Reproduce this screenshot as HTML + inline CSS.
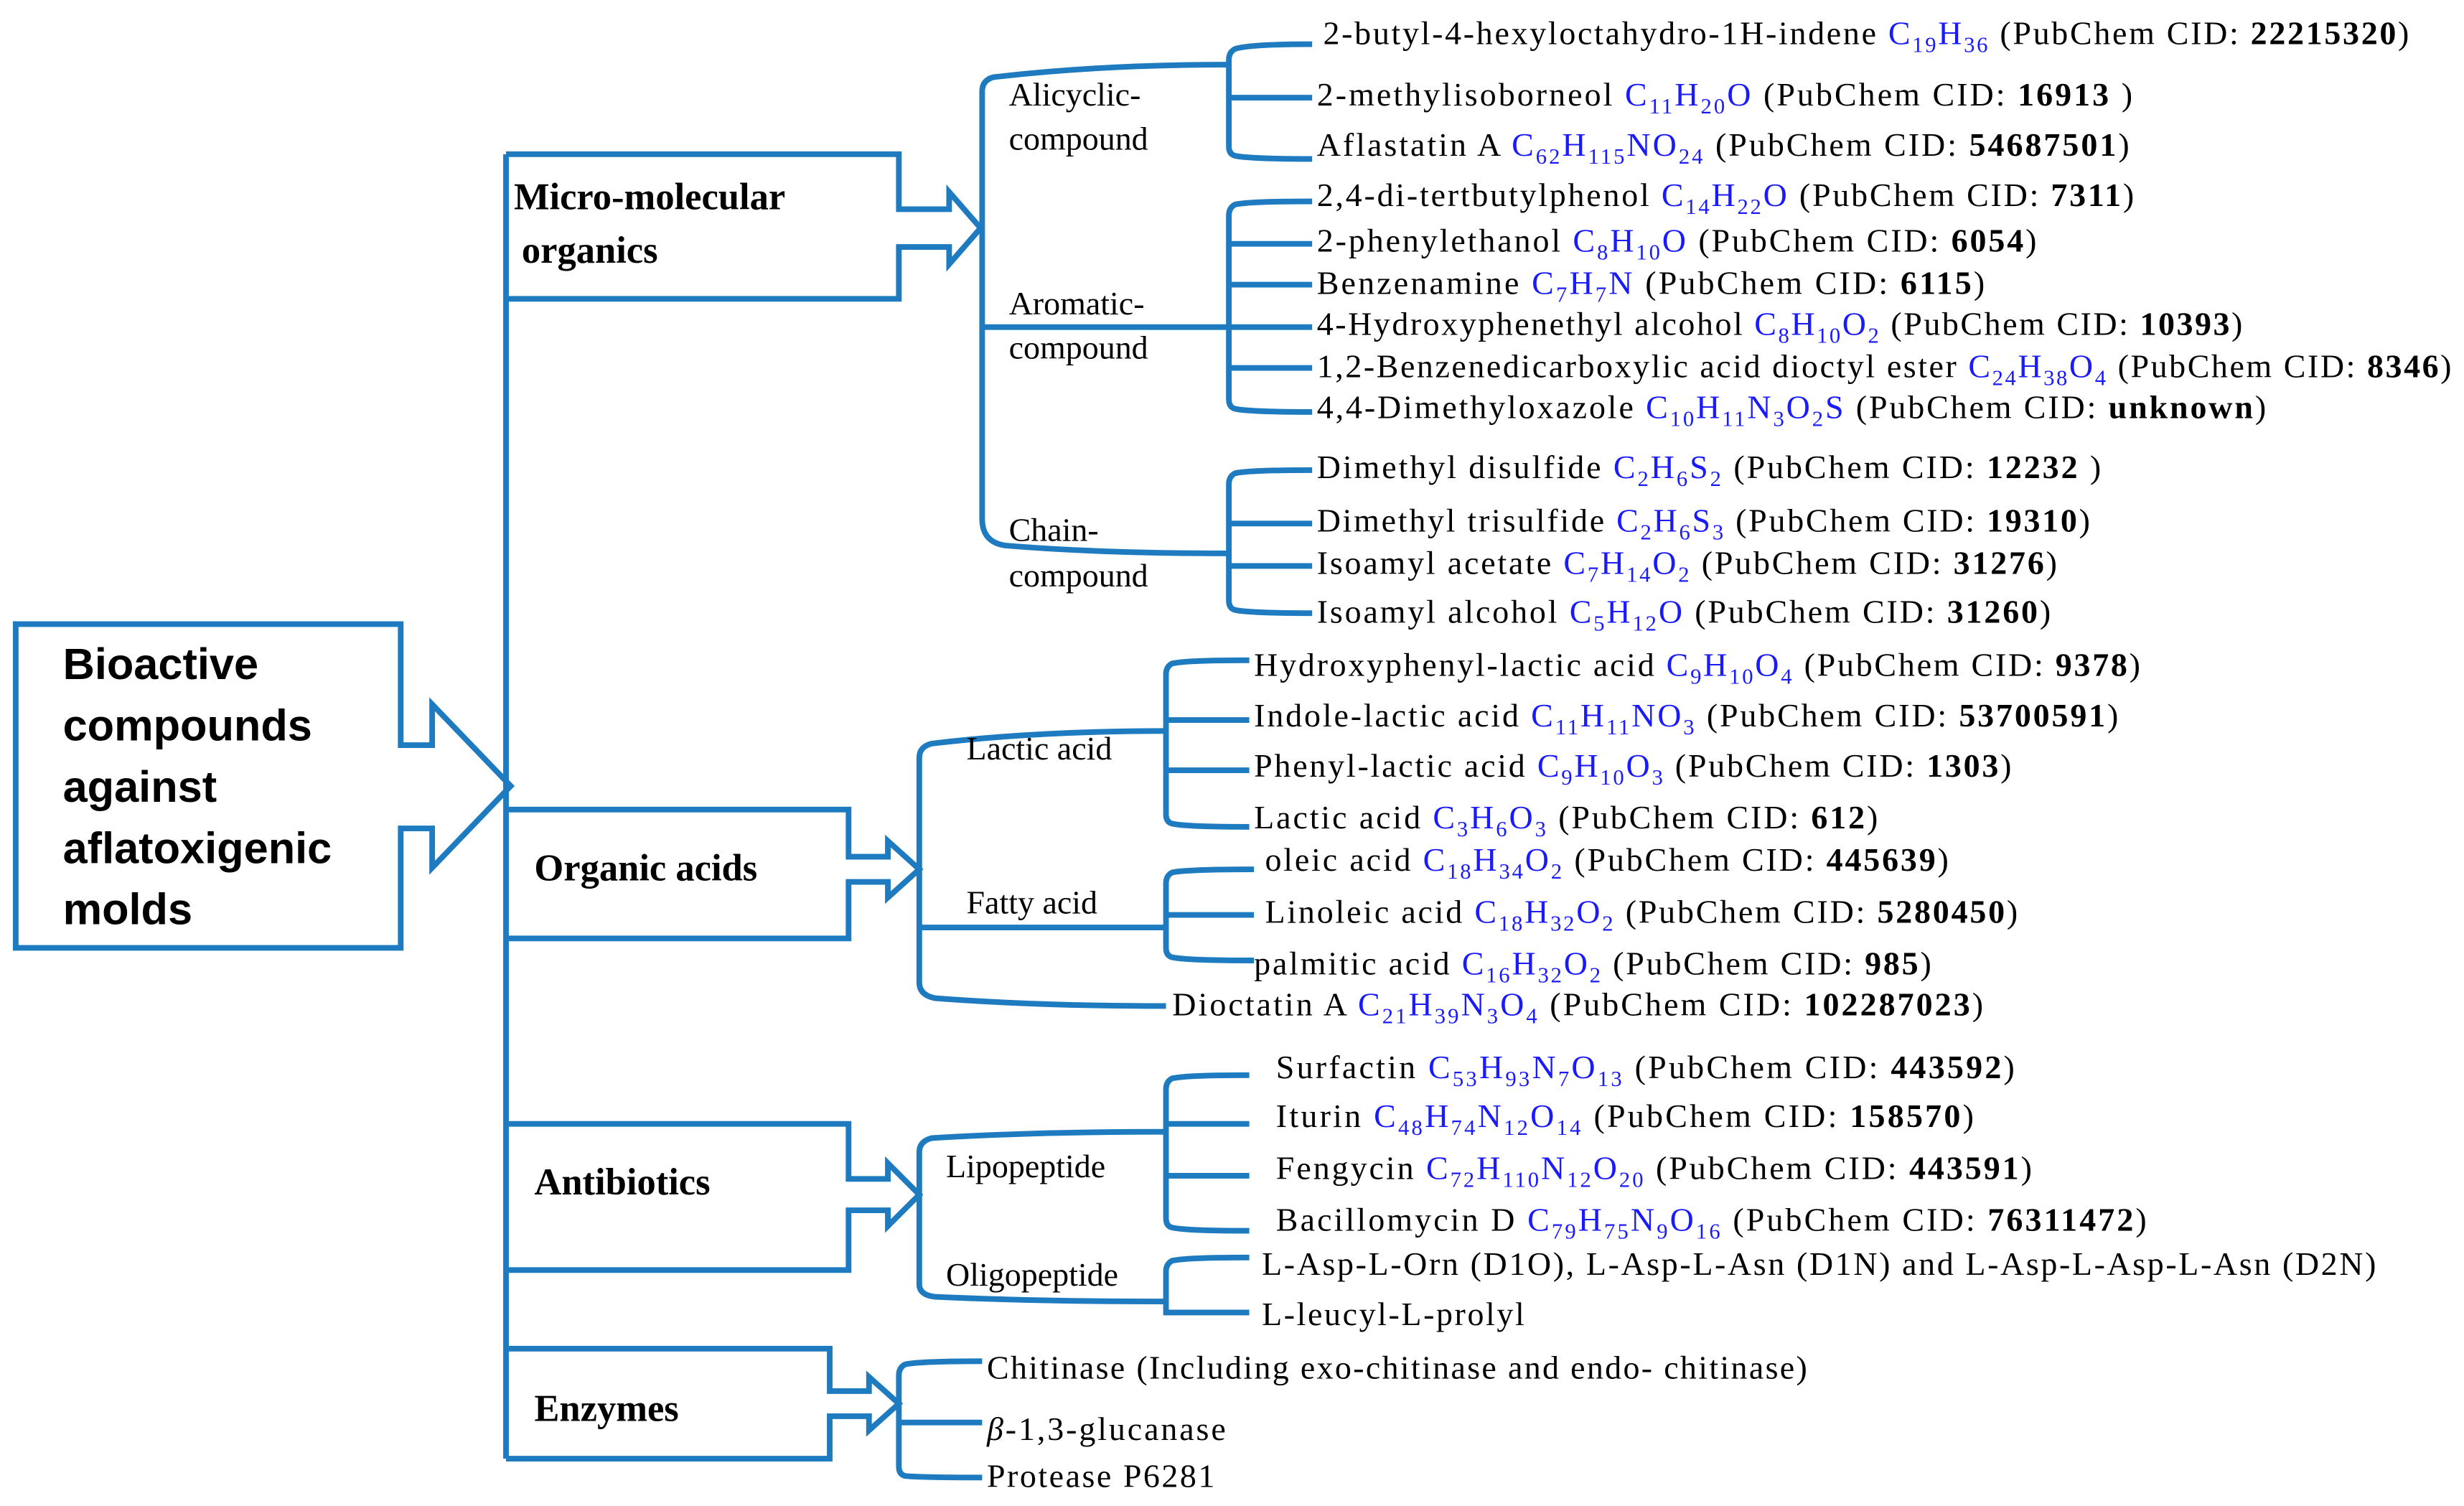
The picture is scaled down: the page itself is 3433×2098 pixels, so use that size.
<!DOCTYPE html>
<html><head><meta charset="utf-8"><style>
html,body{margin:0;padding:0;background:#fff;}
svg{display:block}
text{font-family:"Liberation Serif",serif;font-size:21px;fill:#000}
.f{fill:#1a1aff}
.s{font-size:14px;baseline-shift:-5px}
.b{font-weight:bold}
.h{font-weight:bold;font-size:24px}
.big{font-family:"Liberation Sans",sans-serif;font-weight:bold;font-size:28px}
path,line{stroke:#1f7bc0;stroke-width:3.6;fill:none;stroke-linejoin:miter}
</style></head><body>
<svg width="3433" height="2098" viewBox="0 0 1568 958" xmlns="http://www.w3.org/2000/svg">
<!-- big box -->
<path d="M10,397 H255 V474 H275 V448 L325,500 L275,552 V527 H255 V603 H10 Z"/>
<!-- trunk -->
<line x1="322" y1="98" x2="322" y2="928"/>
<!-- micro box -->
<path d="M322,98 H572 V133 H604 V122 L624,145 L604,168 V157 H572 V190 H322"/>
<path d="M322,515 H540 V545 H565 V535 L585,553 L565,571 V561 H540 V597 H322"/>
<path d="M322,715 H540 V750 H565 V740 L585,760 L565,780 V770 H540 V808 H322"/>
<path d="M322,858 H528 V885 H553 V876 L572,893 L553,910 V901 H528 V928 H322"/>
<!-- micro brackets -->
<path d="M782,41 Q700,41 632,49 Q625,51 625,58 V330 Q625,345 640,347 Q700,352 782,352"/>
<line x1="625" y1="208" x2="782" y2="208"/>
<path d="M835,28 Q795,28 786,31 Q782,33 782,38 V93 Q782,98 786,99 Q795,101 835,101 M782,62 H835"/>
<path d="M835,128 Q795,128 786,130 Q782,132 782,137 V254 Q782,259 786,260 Q795,262 835,262 M782,155 H835 M782,181 H835 M782,208 H835 M782,234 H835"/>
<path d="M835,299 Q795,299 786,301 Q782,303 782,308 V382 Q782,387 786,388 Q795,390 835,390 M782,333 H835 M782,360 H835"/>
<!-- organic acids -->
<path d="M742,465 Q660,465 593,473 Q585,475 585,482 V625 Q585,633 595,635 Q660,640 742,640"/>
<line x1="585" y1="590" x2="742" y2="590"/>
<path d="M795,420 Q755,420 746,422 Q742,424 742,429 V518 Q742,523 746,524 Q755,526 795,526 M742,458 H795 M742,490 H795"/>
<path d="M798,553 Q755,553 746,555 Q742,557 742,562 V603 Q742,608 746,609 Q755,611 798,611 M742,582 H798"/>
<!-- antibiotics -->
<path d="M742,720 Q660,720 593,724 Q585,726 585,733 V817 Q585,824 595,825 Q660,828 742,828"/>
<path d="M795,684 Q755,684 746,686 Q742,688 742,693 V775 Q742,780 746,781 Q755,783 795,783 M742,715 H795 M742,748 H795"/>
<path d="M795,800 Q755,800 746,802 Q742,804 742,809 V835 H795"/>
<!-- enzymes -->
<path d="M625,866 Q585,866 576,868 Q572,870 572,875 V933 Q572,938 576,939 Q585,940 625,940 M572,905 H625"/>

<!-- labels -->
<text x="642" y="67">Alicyclic-</text><text x="642" y="95">compound</text>
<text x="642" y="200">Aromatic-</text><text x="642" y="228">compound</text>
<text x="642" y="344">Chain-</text><text x="642" y="373">compound</text>
<text x="615" y="483">Lactic acid</text>
<text x="615" y="581">Fatty acid</text>
<text x="602" y="749">Lipopeptide</text>
<text x="602" y="818">Oligopeptide</text>
<text class="h" x="327" y="133">Micro-molecular</text>
<text class="h" x="332" y="167">organics</text>
<text class="h" x="340" y="560">Organic acids</text>
<text class="h" x="340" y="760">Antibiotics</text>
<text class="h" x="340" y="904">Enzymes</text>
<text class="big" x="40" y="432">Bioactive</text>
<text class="big" x="40" y="471">compounds</text>
<text class="big" x="40" y="510">against</text>
<text class="big" x="40" y="549">aflatoxigenic</text>
<text class="big" x="40" y="588">molds</text>

<!-- items -->
<text x="842" y="28" textLength="691" lengthAdjust="spacing">2-butyl-4-hexyloctahydro-1H-indene <tspan class="f">C<tspan class="s">19</tspan>H<tspan class="s">36</tspan></tspan> (PubChem CID: <tspan class="b">22215320</tspan>)</text>
<text x="838" y="67" textLength="519" lengthAdjust="spacing">2-methylisoborneol <tspan class="f">C<tspan class="s">11</tspan>H<tspan class="s">20</tspan>O</tspan> (PubChem CID: <tspan class="b">16913</tspan> )</text>
<text x="838" y="99" textLength="517" lengthAdjust="spacing">Aflastatin A <tspan class="f">C<tspan class="s">62</tspan>H<tspan class="s">115</tspan>NO<tspan class="s">24</tspan></tspan> (PubChem CID: <tspan class="b">54687501</tspan>)</text>
<text x="838" y="131" textLength="520" lengthAdjust="spacing">2,4-di-tertbutylphenol <tspan class="f">C<tspan class="s">14</tspan>H<tspan class="s">22</tspan>O</tspan> (PubChem CID: <tspan class="b">7311</tspan>)</text>
<text x="838" y="160" textLength="458" lengthAdjust="spacing">2-phenylethanol <tspan class="f">C<tspan class="s">8</tspan>H<tspan class="s">10</tspan>O</tspan> (PubChem CID: <tspan class="b">6054</tspan>)</text>
<text x="838" y="187" textLength="425" lengthAdjust="spacing">Benzenamine <tspan class="f">C<tspan class="s">7</tspan>H<tspan class="s">7</tspan>N</tspan> (PubChem CID: <tspan class="b">6115</tspan>)</text>
<text x="838" y="213" textLength="589" lengthAdjust="spacing">4-Hydroxyphenethyl alcohol <tspan class="f">C<tspan class="s">8</tspan>H<tspan class="s">10</tspan>O<tspan class="s">2</tspan></tspan> (PubChem CID: <tspan class="b">10393</tspan>)</text>
<text x="838" y="240" textLength="722" lengthAdjust="spacing">1,2-Benzenedicarboxylic acid dioctyl ester <tspan class="f">C<tspan class="s">24</tspan>H<tspan class="s">38</tspan>O<tspan class="s">4</tspan></tspan> (PubChem CID: <tspan class="b">8346</tspan>)</text>
<text x="838" y="266" textLength="604" lengthAdjust="spacing">4,4-Dimethyloxazole <tspan class="f">C<tspan class="s">10</tspan>H<tspan class="s">11</tspan>N<tspan class="s">3</tspan>O<tspan class="s">2</tspan>S</tspan> (PubChem CID: <tspan class="b">unknown</tspan>)</text>
<text x="838" y="304" textLength="499" lengthAdjust="spacing">Dimethyl disulfide <tspan class="f">C<tspan class="s">2</tspan>H<tspan class="s">6</tspan>S<tspan class="s">2</tspan></tspan> (PubChem CID: <tspan class="b">12232</tspan> )</text>
<text x="838" y="338" textLength="492" lengthAdjust="spacing">Dimethyl trisulfide <tspan class="f">C<tspan class="s">2</tspan>H<tspan class="s">6</tspan>S<tspan class="s">3</tspan></tspan> (PubChem CID: <tspan class="b">19310</tspan>)</text>
<text x="838" y="365" textLength="471" lengthAdjust="spacing">Isoamyl acetate <tspan class="f">C<tspan class="s">7</tspan>H<tspan class="s">14</tspan>O<tspan class="s">2</tspan></tspan> (PubChem CID: <tspan class="b">31276</tspan>)</text>
<text x="838" y="396" textLength="467" lengthAdjust="spacing">Isoamyl alcohol <tspan class="f">C<tspan class="s">5</tspan>H<tspan class="s">12</tspan>O</tspan> (PubChem CID: <tspan class="b">31260</tspan>)</text>
<text x="798" y="430" textLength="564" lengthAdjust="spacing">Hydroxyphenyl-lactic acid <tspan class="f">C<tspan class="s">9</tspan>H<tspan class="s">10</tspan>O<tspan class="s">4</tspan></tspan> (PubChem CID: <tspan class="b">9378</tspan>)</text>
<text x="798" y="462" textLength="550" lengthAdjust="spacing">Indole-lactic acid <tspan class="f">C<tspan class="s">11</tspan>H<tspan class="s">11</tspan>NO<tspan class="s">3</tspan></tspan> (PubChem CID: <tspan class="b">53700591</tspan>)</text>
<text x="798" y="494" textLength="482" lengthAdjust="spacing">Phenyl-lactic acid <tspan class="f">C<tspan class="s">9</tspan>H<tspan class="s">10</tspan>O<tspan class="s">3</tspan></tspan> (PubChem CID: <tspan class="b">1303</tspan>)</text>
<text x="798" y="527" textLength="397" lengthAdjust="spacing">Lactic acid <tspan class="f">C<tspan class="s">3</tspan>H<tspan class="s">6</tspan>O<tspan class="s">3</tspan></tspan> (PubChem CID: <tspan class="b">612</tspan>)</text>
<text x="805" y="554" textLength="435" lengthAdjust="spacing">oleic acid <tspan class="f">C<tspan class="s">18</tspan>H<tspan class="s">34</tspan>O<tspan class="s">2</tspan></tspan> (PubChem CID: <tspan class="b">445639</tspan>)</text>
<text x="805" y="587" textLength="479" lengthAdjust="spacing">Linoleic acid <tspan class="f">C<tspan class="s">18</tspan>H<tspan class="s">32</tspan>O<tspan class="s">2</tspan></tspan> (PubChem CID: <tspan class="b">5280450</tspan>)</text>
<text x="798" y="620" textLength="431" lengthAdjust="spacing">palmitic acid <tspan class="f">C<tspan class="s">16</tspan>H<tspan class="s">32</tspan>O<tspan class="s">2</tspan></tspan> (PubChem CID: <tspan class="b">985</tspan>)</text>
<text x="746" y="646" textLength="516" lengthAdjust="spacing">Dioctatin A <tspan class="f">C<tspan class="s">21</tspan>H<tspan class="s">39</tspan>N<tspan class="s">3</tspan>O<tspan class="s">4</tspan></tspan> (PubChem CID: <tspan class="b">102287023</tspan>)</text>
<text x="812" y="686" textLength="470" lengthAdjust="spacing">Surfactin <tspan class="f">C<tspan class="s">53</tspan>H<tspan class="s">93</tspan>N<tspan class="s">7</tspan>O<tspan class="s">13</tspan></tspan> (PubChem CID: <tspan class="b">443592</tspan>)</text>
<text x="812" y="717" textLength="444" lengthAdjust="spacing">Iturin <tspan class="f">C<tspan class="s">48</tspan>H<tspan class="s">74</tspan>N<tspan class="s">12</tspan>O<tspan class="s">14</tspan></tspan> (PubChem CID: <tspan class="b">158570</tspan>)</text>
<text x="812" y="750" textLength="481" lengthAdjust="spacing">Fengycin <tspan class="f">C<tspan class="s">72</tspan>H<tspan class="s">110</tspan>N<tspan class="s">12</tspan>O<tspan class="s">20</tspan></tspan> (PubChem CID: <tspan class="b">443591</tspan>)</text>
<text x="812" y="783" textLength="554" lengthAdjust="spacing">Bacillomycin D <tspan class="f">C<tspan class="s">79</tspan>H<tspan class="s">75</tspan>N<tspan class="s">9</tspan>O<tspan class="s">16</tspan></tspan> (PubChem CID: <tspan class="b">76311472</tspan>)</text>
<text x="803" y="811" textLength="709" lengthAdjust="spacing">L-Asp-L-Orn (D1O), L-Asp-L-Asn (D1N) and L-Asp-L-Asp-L-Asn (D2N)</text>
<text x="803" y="843" textLength="167" lengthAdjust="spacing">L-leucyl-L-prolyl</text>
<text x="628" y="877" textLength="522" lengthAdjust="spacing">Chitinase (Including exo-chitinase and endo- chitinase)</text>
<text x="628" y="916" textLength="152" lengthAdjust="spacing"><tspan font-style="italic">β</tspan>-1,3-glucanase</text>
<text x="628" y="946" textLength="145" lengthAdjust="spacing">Protease P6281</text>
</svg>
</body></html>
